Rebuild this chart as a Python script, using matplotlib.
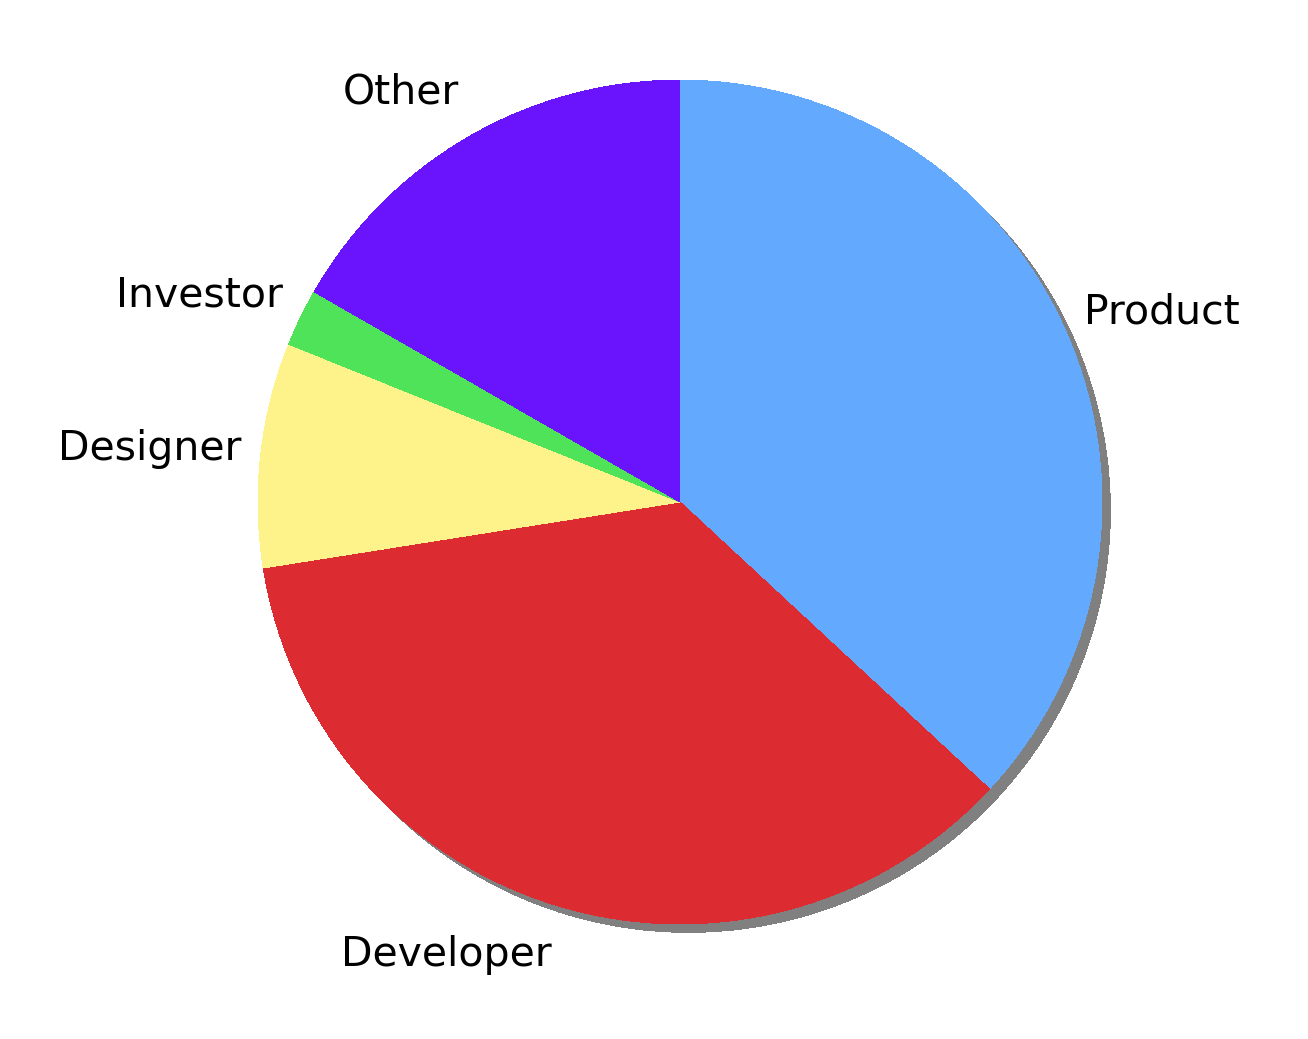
import matplotlib.pyplot as plt

# slice shares (percent)
labels = ['Product', 'Developer', 'Designer', 'Investor', 'Other']
shares = [36.9, 35.6, 8.6, 2.2, 16.7]
colors = ['#63a9fd', '#dc2c32', '#fef38b', '#4fe359', '#6a14fe']

R = 1.185  # half-span of the axes in data units

fig = plt.figure(figsize=(13.08, 10.39), dpi=100)
ax = fig.add_axes([180 / 1308, 37 / 1039, 1000 / 1308, 1000 / 1039])

# shadow: the same pie in flat gray, nudged right and down
ax.pie(shares, colors=['#808080'] * len(shares), startangle=90,
       counterclock=False, center=(0.02, -0.02),
       wedgeprops={'antialiased': False, 'linewidth': 0})

wedges, texts = ax.pie(shares, labels=labels, colors=colors, startangle=90,
                       counterclock=False, labeldistance=1.1,
                       wedgeprops={'antialiased': False, 'linewidth': 0},
                       textprops={'fontsize': 29.5})

# labels in the reference sit a bit narrower / taller than the default ring
for t in texts:
    x, y = t.get_position()
    t.set_position((x * 0.95, y * 1.02))

ax.set_xlim(-R, R)
ax.set_ylim(-R, R)
ax.set_aspect('equal')
ax.axis('off')

fig.savefig('out.png', dpi=100)
